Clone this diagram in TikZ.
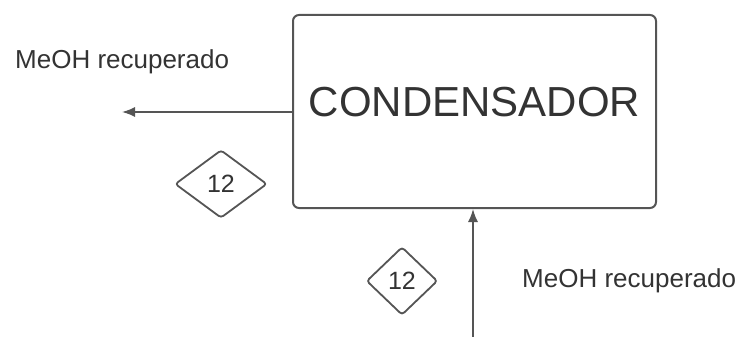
\documentclass[tikz,border=0pt]{standalone}
\usepackage{fontspec}
\setmainfont{Liberation Sans}
\usetikzlibrary{shapes.geometric,arrows.meta}
\definecolor{linegray}{HTML}{555555}
\definecolor{textgray}{HTML}{333333}
\tikzset{
  unitbox/.style={draw=linegray, line width=2pt, rounded corners=6pt, minimum width=363pt, minimum height=193pt, inner sep=0pt, text height=30pt, text depth=19pt, text=textgray, font=\fontsize{42}{42}\selectfont},
  tagdiamond/.style={diamond, draw=linegray, line width=1.8pt, rounded corners=3pt, inner sep=0pt, text=textgray, font=\fontsize{25}{25}\selectfont},
  flow/.style={draw=linegray, line width=1.5pt, -{Latex[length=13pt,width=10pt]}},
  flowlabel/.style={anchor=base west, inner sep=0pt, text=textgray, font=\fontsize{26}{26}\selectfont}
}
\begin{document}
\begin{tikzpicture}[x=1pt,y=-1pt]
\useasboundingbox (0,0) rectangle (742,337);
\node[unitbox] (cond) at (474.5,111.5) {CONDENSADOR};
\coordinate (outL) at (122,112);
\coordinate (inB) at (473,337);
\draw[flow] (cond.west |- outL) -- (outL);
\draw[flow] (inB) -- (inB |- cond.south);
\node[flowlabel] (lblL) at (15,69) {MeOH recuperado};
\node[flowlabel] (lblR) at (522,287) {MeOH recuperado};
\node[tagdiamond, minimum width=92pt, minimum height=68pt] (d1) at (221,184) {12};
\node[tagdiamond, minimum width=71pt, minimum height=68pt] (d2) at (402,281) {12};
\end{tikzpicture}
\end{document}
